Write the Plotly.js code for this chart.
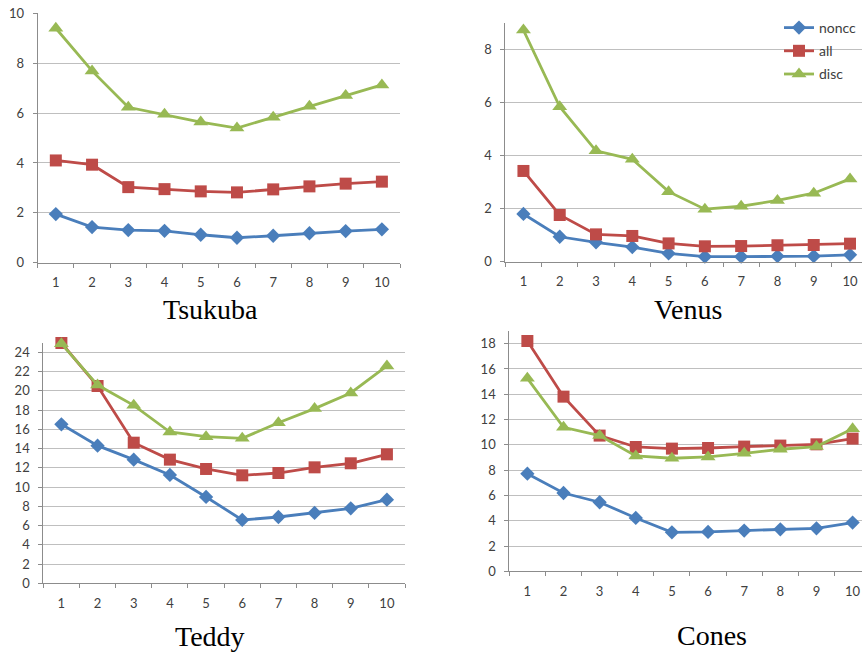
<!DOCTYPE html>
<html>
<head>
<meta charset="utf-8">
<script src="https://cdn.plot.ly/plotly-3.0.1.min.js"></script>
<style>html,body{margin:0;padding:0;background:#fff;}#chart{width:862px;height:653px;}</style>
</head>
<body>
<div id="chart"></div>
<script>
var categories = ['1','2','3','4','5','6','7','8','9','10'];
var seriesNames = ['noncc','all','disc'];
var panelTitles = ['Tsukuba','Venus','Teddy','Cones'];

var tsukubaNoncc = [1.95,1.43,1.31,1.28,1.12,1.00,1.08,1.18,1.27,1.34];
var tsukubaAll   = [4.10,3.93,3.03,2.95,2.86,2.82,2.94,3.06,3.17,3.25];
var tsukubaDisc  = [9.40,7.69,6.23,5.95,5.64,5.40,5.83,6.27,6.70,7.13];

var venusNoncc = [1.80,0.94,0.73,0.55,0.31,0.19,0.19,0.21,0.21,0.26];
var venusAll   = [3.42,1.76,1.03,0.97,0.69,0.58,0.59,0.62,0.63,0.68];
var venusDisc  = [8.73,5.84,4.18,3.86,2.64,1.98,2.09,2.31,2.58,3.12];

var teddyNoncc = [16.52,14.30,12.85,11.26,8.97,6.58,6.89,7.31,7.79,8.69];
var teddyAll   = [24.97,20.50,14.61,12.85,11.88,11.22,11.46,12.05,12.47,13.40];
var teddyDisc  = [24.90,20.60,18.49,15.72,15.24,15.06,16.69,18.15,19.78,22.58];

var conesNoncc = [7.72,6.19,5.46,4.22,3.08,3.11,3.22,3.32,3.40,3.85];
var conesAll   = [18.21,13.81,10.73,9.83,9.70,9.75,9.86,9.94,10.04,10.49];
var conesDisc  = [15.26,11.39,10.73,9.12,8.94,9.04,9.33,9.65,9.86,11.28];

var panels = [
  [tsukubaNoncc, tsukubaAll, tsukubaDisc],
  [venusNoncc, venusAll, venusDisc],
  [teddyNoncc, teddyAll, teddyDisc],
  [conesNoncc, conesAll, conesDisc]
];

var colors = ['#4A7EBB','#BE4B48','#98B954'];
var symbols = ['diamond','square','triangle-up'];
var msizes = [11,12,13];

var W = 862, H = 653;
function fx(p){return p/W;}
function fy(p){return 1-p/H;}

var geo = [
  {x:[37.7,400], y:[262.7,13.3], xr:[-0.5,9.5], yr:[0,10], dt:2, title:[210.7,310]},
  {x:[505.3,862], y:[261.7,22.9], xr:[-0.5,9.33], yr:[0,9], dt:2, title:[688,310]},
  {x:[43.3,405], y:[583.3,342.7], xr:[-0.5,9.5], yr:[0,25], dt:2, title:[210,636]},
  {x:[509.3,862], y:[571.3,331.0], xr:[-0.5,9.26], yr:[0,19], dt:2, title:[712,635]}
];

var tickFont = {family:'Lato, "Open Sans", sans-serif', size:13, color:'#404040'};
var traces = [];
var layout = {
  width: W, height: H,
  margin: {l:0,r:0,t:0,b:0},
  paper_bgcolor:'#ffffff', plot_bgcolor:'#ffffff',
  font: {family:'Lato, "Open Sans", sans-serif', size:12, color:'#404040'},
  showlegend: true,
  legend: {x: 1, y: fy(12), xanchor:'right', yanchor:'top',
           bgcolor:'rgba(0,0,0,0)', font:{size:14, color:'#404040', family:'Lato, "Open Sans", sans-serif'},
           itemwidth:30, tracegroupgap:2},
  annotations: []
};

panels.forEach(function(p, i){
  var xa = 'x' + (i===0?'':(i+1));
  var ya = 'y' + (i===0?'':(i+1));
  for (var s=0; s<3; s++){
    traces.push({
      x: categories, y: p[s], type:'scatter', mode:'lines+markers',
      name: seriesNames[s], legendgroup: seriesNames[s],
      showlegend: i===1,
      xaxis: xa, yaxis: ya, cliponaxis:false,
      line: {color: colors[s], width: 2.8},
      marker: {symbol: symbols[s], size: msizes[s], color: colors[s], line:{width:0}}
    });
  }
  var g = geo[i];
  var xk = 'xaxis' + (i===0?'':(i+1));
  var yk = 'yaxis' + (i===0?'':(i+1));
  layout[xk] = {
    type:'category', domain:[fx(g.x[0]), fx(g.x[1])], range:g.xr,
    anchor: ya, showgrid:false, zeroline:false, automargin:false,
    showline:true, linecolor:'#8C8C8C', linewidth:1,
    ticks:'outside', tickson:'boundaries', ticklen:4, tickcolor:'#8C8C8C',
    ticklabelstandoff:8,
    tickfont:tickFont, fixedrange:true
  };
  layout[yk] = {
    domain:[fy(g.y[0]), fy(g.y[1])], range:g.yr, dtick:g.dt, tick0:0,
    anchor: xa, showgrid:true, gridcolor:'#BFBFBF', gridwidth:1, zeroline:false, automargin:false,
    showline:true, linecolor:'#8C8C8C', linewidth:1,
    ticks:'outside', ticklen:4, tickcolor:'#8C8C8C',
    ticklabelstandoff:6,
    tickfont:tickFont, fixedrange:true
  };
  layout.annotations.push({
    text: panelTitles[i], xref:'paper', yref:'paper',
    x: fx(g.title[0]), y: fy(g.title[1]), xanchor:'center', yanchor:'middle',
    showarrow:false, font:{family:'"Liberation Serif", "DejaVu Serif", serif', size:28, color:'#000000'}
  });
});

Plotly.newPlot('chart', traces, layout, {displayModeBar:false, staticPlot:true});
</script>
</body>
</html>
